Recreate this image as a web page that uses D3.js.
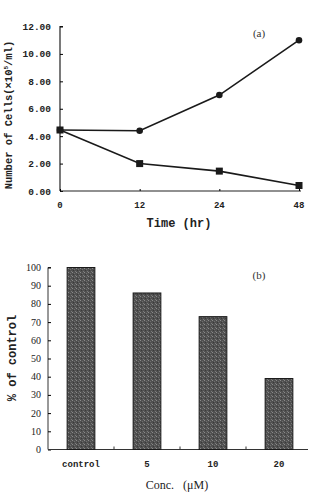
<!DOCTYPE html>
<html><head><meta charset="utf-8">
<script src="https://cdn.jsdelivr.net/npm/d3@7"></script>
<style>body{margin:0;background:#fff}svg{display:block}</style>
</head><body>
<svg id="c" width="311" height="499"></svg>
<script>
// Panel (a)
const times = ["0", "12", "24", "48"];
const circleSeries = [4.45, 4.4, 7.0, 11.0];
const squareSeries = [4.45, 2.0, 1.45, 0.4];
const yTicksA = [0, 2, 4, 6, 8, 10, 12];
// Panel (b)
const concs = ["control", "5", "10", "20"];
const pctControl = [100, 86, 73, 39];
const yTicksB = [0, 10, 20, 30, 40, 50, 60, 70, 80, 90, 100];

const svg = d3.select("#c");
const mono = "'Liberation Mono', 'DejaVu Sans Mono', monospace";
const serif = "'Liberation Serif', 'DejaVu Serif', serif";

// ---------- panel (a)
const gA = svg.append("g");
const xA = d3.scalePoint().domain(times).range([60, 299]);
const yA = d3.scaleLinear().domain([0, 12]).range([191, 26.5]);

gA.append("g").attr("transform", "translate(60,0)")
  .call(d3.axisRight(yA).tickValues(yTicksA).tickSize(3).tickFormat(""))
  .call(g => g.select(".domain").attr("stroke", "#222").attr("stroke-width", 1.2).attr("d", `M3,${yA(12)}H0V${yA(0)}`));
gA.selectAll(".ylabA").data(yTicksA).join("text")
  .attr("x", 51).attr("y", d => yA(d) + 3.5).attr("text-anchor", "end")
  .attr("font-family", mono).attr("font-weight", "bold").attr("font-size", 9.5).attr("fill", "#222")
  .text(d => d.toFixed(2));
gA.append("g").attr("transform", "translate(0,191)")
  .call(d3.axisTop(xA).tickSize(2).tickFormat(""))
  .call(g => g.select(".domain").attr("stroke", "#222").attr("stroke-width", 1.2).attr("d", `M60,0H301`));
gA.selectAll(".xlabA").data(times).join("text")
  .attr("x", d => xA(d)).attr("y", 208).attr("text-anchor", "middle")
  .attr("font-family", mono).attr("font-weight", "bold").attr("font-size", 9).attr("fill", "#222")
  .text(d => d);
gA.append("text").attr("x", 179).attr("y", 227).attr("text-anchor", "middle")
  .attr("font-family", mono).attr("font-weight", "bold").attr("font-size", 12).attr("fill", "#222")
  .text("Time (hr)");
const ttl = gA.append("text").attr("transform", "translate(12,115) rotate(-90)").attr("text-anchor", "middle")
  .attr("font-family", mono).attr("font-weight", "bold").attr("font-size", 10.5).attr("fill", "#222");
ttl.append("tspan").text("Number of Cells(×10");
ttl.append("tspan").attr("dy", -4).attr("font-size", 6).text("5");
ttl.append("tspan").attr("dy", 4).text("/ml)");
gA.append("text").attr("x", 259).attr("y", 37).attr("text-anchor", "middle")
  .attr("font-family", serif).attr("font-size", 11).attr("fill", "#333").text("(a)");

const line = d3.line().x((d, i) => xA(times[i])).y(d => yA(d));
gA.append("path").datum(circleSeries).attr("d", line).attr("fill", "none").attr("stroke", "#1a1a1a").attr("stroke-width", 1.6);
gA.append("path").datum(squareSeries).attr("d", line).attr("fill", "none").attr("stroke", "#1a1a1a").attr("stroke-width", 1.6);
gA.selectAll(".circ").data(circleSeries).join("circle")
  .attr("cx", (d, i) => xA(times[i])).attr("cy", d => yA(d)).attr("r", 3.3).attr("fill", "#1a1a1a");
gA.selectAll(".sq").data(squareSeries).join("rect")
  .attr("x", (d, i) => xA(times[i]) - 3.5).attr("y", d => yA(d) - 3.5).attr("width", 7).attr("height", 7)
  .attr("fill", "#1a1a1a");

// ---------- panel (b)
const gB = svg.append("g");
const defs = svg.append("defs");
const pat = defs.append("pattern").attr("id", "stip").attr("patternUnits", "userSpaceOnUse").attr("width", 4).attr("height", 4);
pat.append("rect").attr("width", 4).attr("height", 4).attr("fill", "#505050");
pat.append("rect").attr("x", 0).attr("y", 0).attr("width", 1).attr("height", 1).attr("fill", "#8a8a8a");
pat.append("rect").attr("x", 2).attr("y", 1).attr("width", 1).attr("height", 1).attr("fill", "#6e6e6e");
pat.append("rect").attr("x", 1).attr("y", 2).attr("width", 1).attr("height", 1).attr("fill", "#3a3a3a");
pat.append("rect").attr("x", 3).attr("y", 3).attr("width", 1).attr("height", 1).attr("fill", "#7a7a7a");

const xB = d3.scaleBand().domain(concs).range([48, 312]).paddingInner(0.58).paddingOuter(0.29);
const yB = d3.scaleLinear().domain([0, 100]).range([449.5, 267.5]);

gB.append("g").attr("transform", "translate(48,0)")
  .call(d3.axisRight(yB).tickValues(yTicksB).tickSize(3).tickFormat(""))
  .call(g => g.select(".domain").attr("stroke", "#333").attr("stroke-width", 1).attr("d", `M3,${yB(100)}H0V${yB(0)}`));
gB.selectAll(".ylabB").data(yTicksB).join("text")
  .attr("x", 41).attr("y", d => yB(d) + 3.5).attr("text-anchor", "end")
  .attr("font-family", serif).attr("font-size", 10).attr("fill", "#222")
  .text(d => d);
gB.append("line").attr("x1", 48).attr("x2", 308).attr("y1", yB(0)).attr("y2", yB(0)).attr("stroke", "#333").attr("stroke-width", 1);
gB.selectAll(".xtB").data(concs.slice(1)).join("line")
  .attr("x1", d => xB(d) - 0.5 * (xB.step() - xB.bandwidth()))
  .attr("x2", d => xB(d) - 0.5 * (xB.step() - xB.bandwidth()))
  .attr("y1", yB(0)).attr("y2", yB(0) - 3).attr("stroke", "#333");
gB.selectAll(".bar").data(pctControl).join("rect")
  .attr("x", (d, i) => xB(concs[i])).attr("y", d => yB(d))
  .attr("width", xB.bandwidth()).attr("height", d => yB(0) - yB(d))
  .attr("fill", "url(#stip)").attr("stroke", "#1a1a1a").attr("stroke-width", 1);
gB.selectAll(".xlabB").data(concs).join("text")
  .attr("x", d => xB(d) + xB.bandwidth() / 2).attr("y", 467).attr("text-anchor", "middle")
  .attr("font-family", mono).attr("font-weight", "bold").attr("font-size", 9).attr("fill", "#222")
  .text(d => d);
gB.append("text").attr("x", 177).attr("y", 489).attr("text-anchor", "middle")
  .attr("font-family", serif).attr("font-size", 12).attr("fill", "#222")
  .attr("xml:space", "preserve").style("white-space", "pre")
  .text("Conc.   (μM)");
gB.append("text").attr("transform", "translate(16,358) rotate(-90)").attr("text-anchor", "middle")
  .attr("font-family", mono).attr("font-weight", "bold").attr("font-size", 12).attr("fill", "#222")
  .text("% of control");
gB.append("text").attr("x", 259).attr("y", 279).attr("text-anchor", "middle")
  .attr("font-family", serif).attr("font-size", 11).attr("fill", "#333").text("(b)");
</script>
</body></html>
